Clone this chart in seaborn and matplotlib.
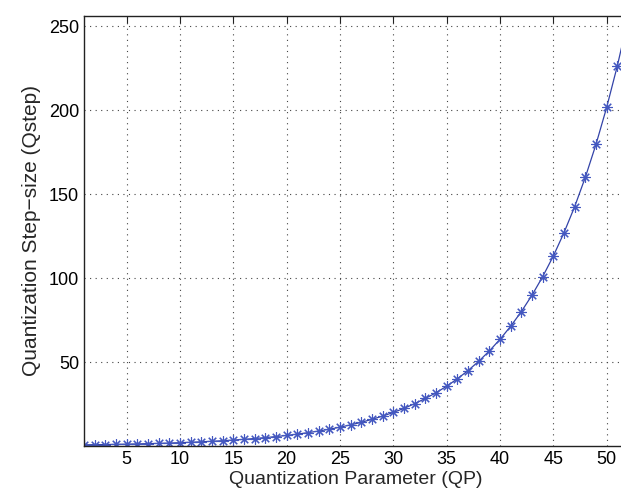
import pandas as pd
import seaborn as sns
import matplotlib.pyplot as plt

# Quantization parameter and step size values
qp = list(range(1, 53))
qstep = [0.70, 0.79, 0.88, 0.99, 1.11, 1.25, 1.40, 1.57, 1.77, 1.98,
         2.23, 2.50, 2.81, 3.15, 3.54, 3.97, 4.45, 5.00, 5.61, 6.30,
         7.07, 7.94, 8.91, 10.0, 11.2, 12.6, 14.1, 15.9, 17.8, 20.0,
         22.4, 25.2, 28.3, 31.7, 35.6, 40.0, 44.9, 50.4, 56.6, 63.5,
         71.3, 80.0, 89.8, 100.8, 113.1, 127.0, 142.5, 160.0, 179.6, 201.6,
         226.3, 254.0]
x_ticks = [5, 10, 15, 20, 25, 30, 35, 40, 45, 50]
y_ticks = [50, 100, 150, 200, 250]

df = pd.DataFrame({'QP': qp, 'Qstep': qstep})

sns.set_style('white')
plt.rcParams['font.family'] = ['Liberation Sans', 'DejaVu Sans']

fig = plt.figure(figsize=(6.21, 4.97), dpi=100)
ax = fig.add_axes([84 / 621, 1 - 446 / 497, (628 - 84) / 621, (446 - 16) / 497])

sns.lineplot(data=df, x='QP', y='Qstep', ax=ax, color='#3343a8', linewidth=0.9,
             marker=(8, 2, 0), markersize=7.5, markeredgewidth=0.8,
             markeredgecolor='#4458c0')

ax.set_xlim(1, 52)
ax.set_ylim(0, 256)
ax.set_xticks(x_ticks)
ax.set_yticks(y_ticks)
ax.grid(True, linestyle=(0, (1, 4)), color='#444444', linewidth=0.8)
ax.tick_params(direction='in', length=5, labelsize=13, top=True, right=False,
               colors='#222222', labelcolor='black')
ax.spines['right'].set_visible(False)
for s in ['left', 'top', 'bottom']:
    ax.spines[s].set_color('#222222')
    ax.spines[s].set_linewidth(1.0)

ax.set_xlabel('Quantization Parameter (QP)', fontsize=14, labelpad=2)
ax.set_ylabel('Quantization Step\u2212size (Qstep)', fontsize=15, labelpad=6)

fig.savefig('out.png', dpi=100)
